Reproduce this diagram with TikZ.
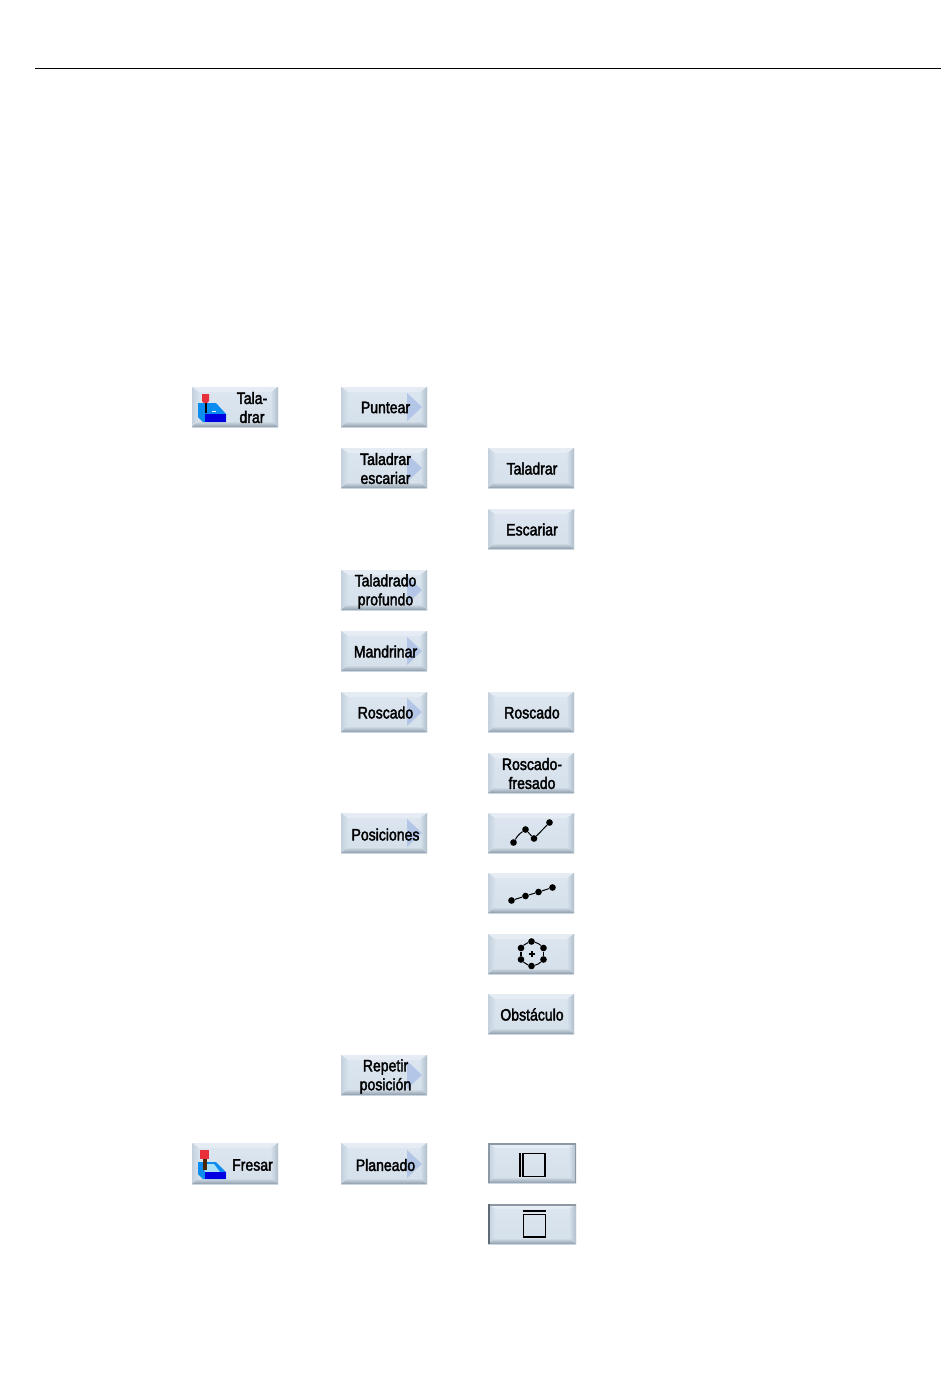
\documentclass[tikz,border=0pt]{standalone}
\usepackage{fontspec}
\newfontfamily\btnfont[FakeStretch=0.85,FakeBold=2.2]{Liberation Sans}
\definecolor{facetop}{HTML}{DDE6F0}
\definecolor{facebot}{HTML}{D3DFEA}
\definecolor{btop}{HTML}{E6ECF3}
\definecolor{blo}{HTML}{C4D1DD}
\definecolor{bhi}{HTML}{D7E2EC}
\definecolor{broute}{HTML}{B0BECB}
\definecolor{bbot}{HTML}{8E9CAA}
\definecolor{arrowc}{HTML}{B3C6E7}
\definecolor{icblue}{HTML}{0A8CF0}
\definecolor{icdark}{HTML}{0000E0}
\definecolor{iclight}{HTML}{A8E0F8}
\definecolor{icred}{HTML}{E8303A}
\definecolor{edgea}{HTML}{8C99A5}
\definecolor{edgeb}{HTML}{5F6B75}
\tikzset{
  btntext/.style={font=\btnfont\fontsize{12.4pt}{14.2pt}\selectfont,align=center,text=black,inner sep=0pt},
  icline/.style={black,line width=0.75pt},
  icdot/.style={circle,fill=black,inner sep=0pt,minimum size=5pt},
}
% [height] x y width name
\newcommand{\bevel}[5][40]{%
  \begin{scope}[shift={(#2,#3)}]
    \shade[top color=facetop,bottom color=facebot] (0,0) rectangle (#4,#1);
    \fill[btop] (0,0) -- (#4,0) -- ({#4-7},5) -- (7,5) -- cycle;
    \shade[left color=blo,right color=bhi] (0,0) -- (7,5) -- (7,{#1-6}) -- (0,#1) -- cycle;
    \shade[left color=bhi,right color=broute] (#4,0) -- ({#4-7},5) -- ({#4-7},{#1-6}) -- (#4,#1) -- cycle;
    \shade[top color=bhi,bottom color=bbot] (0,#1) -- (7,{#1-6}) -- ({#4-7},{#1-6}) -- (#4,#1) -- cycle;
    \coordinate (#5) at ({#4/2},{#1/2});
  \end{scope}}
\newcommand{\arrowmark}[2]{\fill[arrowc] (#1+66,#2+6) -- (#1+81,#2+20) -- (#1+66,#2+34) -- cycle;}
\newcommand{\menubtn}[5][0]{\bevel{#2}{#3}{86}{c#4}\arrowmark{#2}{#3}\node[btntext] (#4) at (#2+44.5,#3+20.5+#1) {#5};}
\newcommand{\plainbtn}[4]{\bevel{#1}{#2}{86}{c#3}\node[btntext] (#3) at (#1+44,#2+20.5) {#4};}
\newcommand{\dotsbtn}[3]{\bevel{#1}{#2}{86}{c#3}}
\begin{document}
\begin{tikzpicture}[x=0.75pt,y=-0.75pt]
\useasboundingbox (0,0) rectangle (950,1397);
\fill[white] (0,0) rectangle (950,1397);
\draw[black,line width=0.75pt] (35,68.5) -- (941,68.5);

% first column
\bevel{192}{387}{86}{ctala}
\fill[icblue] (198,403) -- (216,403) -- (226,414) -- (226,422) -- (203,422) -- (198,417) -- cycle;
\fill[icdark] (205,414) rectangle (226,422);
\fill[black] (204.5,403) rectangle (207,413);
\fill[icred] (202,394) rectangle (209,401) -- (207,403) -- (204,403) -- (202,401) -- cycle;
\fill[white] (212,410.5) rectangle (216,411.5);
\node[btntext] (tala) at (252,407.5) {Tala-\\drar};

\bevel[41]{192}{1143}{86}{cfresar}
\fill[icblue] (198,1162) -- (216,1162) -- (226,1172) -- (226,1179) -- (203,1179) -- (198,1174) -- cycle;
\fill[iclight] (203,1164) -- (214,1164) -- (220,1172) -- (205,1172) -- cycle;
\fill[icdark] (205,1172) rectangle (226,1179);
\fill[black!70!orange] (202.5,1158) rectangle (207,1170);
\fill[icred] (200,1150) rectangle (209,1158.5);
\node[btntext] (fresar) at (252.5,1165) {Fresar};

% second column
\menubtn{341}{387}{puntear}{Puntear}
\menubtn{341}{448}{taladrarb}{Taladrar\\escariar}
\menubtn[1]{341}{570}{profundo}{Taladrado\\profundo}
\menubtn{341}{631}{mandrinar}{Mandrinar}
\menubtn{341}{692}{roscadob}{Roscado}
\menubtn[1]{341}{813}{posiciones}{Posiciones}
\menubtn[1]{341}{1055}{repetir}{Repetir\\posición}
\bevel[41]{341}{1143}{86}{cplaneado}
\arrowmark{341}{1144}
\node[btntext] (planeado) at (385.5,1165) {Planeado};

% third column
\plainbtn{488}{448}{taladrarc}{Taladrar}
\plainbtn{488}{509}{escariar}{Escariar}
\plainbtn{488}{692}{roscadoc}{Roscado}
\plainbtn{488}{753}{fresado}{Roscado-\\fresado}
\plainbtn{488}{994}{obstaculo}{Obstáculo}

\dotsbtn{488}{813}{linea}
\node[icdot] (a1) at (513.5,842.5) {};
\node[icdot] (a2) at (525.5,829.5) {};
\node[icdot] (a3) at (534,838.5) {};
\node[icdot] (a4) at (549.5,822.5) {};
\draw[icline] (a1) to[bend left=12] (a2) (a2) -- (a3) (a3) -- (a4);

\dotsbtn{488}{873}{reticula}
\node[icdot] (b1) at (511.5,900.5) {};
\node[icdot] (b2) at (525.5,896) {};
\node[icdot] (b3) at (538.5,892) {};
\node[icdot] (b4) at (552.5,887.5) {};
\draw[icline] (b1) -- (b2) (b2) -- (b3) (b3) -- (b4);

\dotsbtn{488}{934}{circulo}
\node[icdot] (c1) at (531.5,941.5) {};
\node[icdot] (c2) at (543.5,948) {};
\node[icdot] (c3) at (543.5,959.5) {};
\node[icdot] (c4) at (531.5,966) {};
\node[icdot] (c5) at (521,959.5) {};
\node[icdot] (c6) at (521,948) {};
\draw[icline] (c1) to[bend left=15] (c2) (c3) to[bend left=15] (c4) (c4) to[bend left=15] (c5) (c6) to[bend left=15] (c1);
\draw[black,line width=1.3pt] (c2) -- (c3) (c5) -- (c6);
\draw[black,line width=1.5pt] (529,954) -- (535,954) (532,951) -- (532,957);

% face milling buttons
\bevel{488}{1143}{88}{cvert}
\fill[edgea] (488,1143) rectangle (576,1144.5);
\fill[edgea] (488,1143) rectangle (489.5,1183);
\fill[edgea] (574.5,1143) rectangle (576,1183);
\draw[black,line width=1.5pt] (519.5,1153) -- (519.5,1177);
\draw[black,line width=1pt] (523,1153.5) rectangle (545,1176.5);

\bevel{488}{1204}{88}{chorz}
\fill[edgea] (488,1204) rectangle (576,1205.5);
\fill[edgeb] (488,1204) rectangle (489.5,1244);
\draw[black,line width=1.5pt] (523,1211) -- (546,1211);
\draw[black,line width=1pt] (523.5,1214.5) rectangle (545.5,1237);
\end{tikzpicture}
\end{document}
